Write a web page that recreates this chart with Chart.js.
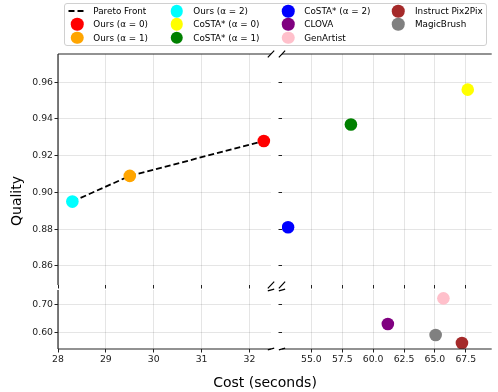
<!DOCTYPE html>
<html>
<head>
<meta charset="utf-8">
<script src="https://cdn.jsdelivr.net/npm/chart.js@4.4.1/dist/chart.umd.min.js"></script>
<style>
  body { margin: 0; background: #fff; overflow: hidden; }
  #wrap { position: relative; width: 498px; height: 392px; font-family: "DejaVu Sans", sans-serif; color: #000; }
  #wrap canvas { position: absolute; left: 0; top: 0; }
  #legend { position: absolute; left: 64px; top: 3px; width: 423px; height: 43px; box-sizing: border-box;
            border: 1px solid #d0d0d0; border-radius: 3px; background: rgba(255,255,255,0.8); }
  .lg-item { position: absolute; font-size: 8.8px; line-height: 1; white-space: nowrap; transform: translateY(-50%); }
  .lg-dot { position: absolute; width: 12.5px; height: 12.5px; border-radius: 50%; transform: translate(-50%, -50%); }
  .title { position: absolute; font-size: 14px; white-space: nowrap; }
</style>
</head>
<body>
<div id="wrap">
  <canvas id="tl" width="498" height="392"></canvas>
  <canvas id="tr" width="498" height="392"></canvas>
  <canvas id="bl" width="498" height="392"></canvas>
  <canvas id="br" width="498" height="392"></canvas>
  <div id="legend"></div>
  <div class="title" style="left:16px;top:201px;transform:translate(-50%,-50%) rotate(-90deg);">Quality</div>
  <div class="title" style="left:265px;top:382px;transform:translate(-50%,-50%);">Cost (seconds)</div>
</div>
<script>
// values
const methods = ['Ours (α = 0)', 'Ours (α = 1)', 'Ours (α = 2)',
                 'CoSTA* (α = 0)', 'CoSTA* (α = 1)', 'CoSTA* (α = 2)',
                 'CLOVA', 'GenArtist', 'Instruct Pix2Pix', 'MagicBrush'];
const cost = [32.3, 29.5, 28.3, 67.66, 58.2, 53.11, 61.19, 65.69, 67.19, 65.06];
const quality = [0.928, 0.909, 0.895, 0.956, 0.937, 0.881, 0.630, 0.723, 0.561, 0.590];

const paretoLabel = 'Pareto Front';
const paretoCost = [28.3, 29.5, 32.3];
const paretoQuality = [0.895, 0.909, 0.928];

// styles
const colors = ['red', 'orange', 'cyan', 'yellow', 'green', 'blue', 'purple', 'pink', 'brown', 'gray'];
const gridColor = 'rgba(0,0,0,0.1)';
const tickFont = { family: 'DejaVu Sans', size: 9.3 };

// spines and the little "//" marks at the breaks
const frame = {
  id: 'frame',
  afterDraw(chart, args, opts) {
    const { ctx, chartArea: a } = chart;
    ctx.save();
    ctx.strokeStyle = '#262626';
    ctx.lineWidth = 1.2;
    ctx.beginPath();
    if (opts.top) { ctx.moveTo(a.left, a.top); ctx.lineTo(a.right, a.top); }
    if (opts.bottom) { ctx.moveTo(a.left, a.bottom); ctx.lineTo(a.right, a.bottom); }
    if (opts.left) { ctx.moveTo(a.left, a.top); ctx.lineTo(a.left, a.bottom); }
    ctx.stroke();

    const dx = 0.015 * (a.right - a.left);
    const dy = 0.015 * (a.bottom - a.top);
    ctx.strokeStyle = '#000';
    ctx.beginPath();
    (opts.breaks || []).forEach(c => {
      const x = c[0] === 'l' ? a.left : a.right;
      const y = c[1] === 't' ? a.top : a.bottom;
      ctx.moveTo(x - dx, y + dy);
      ctx.lineTo(x + dx, y - dy);
    });
    ctx.stroke();
    ctx.restore();
  }
};

function makeDatasets(withPareto) {
  let sets = methods.map((name, i) => ({
    label: name,
    data: [{ x: cost[i], y: quality[i] }],
    backgroundColor: colors[i],
    borderWidth: 0,
    pointRadius: 6.3,
    clip: 0,
    order: 1
  }));
  if (withPareto) {
    sets.unshift({
      label: paretoLabel,
      data: paretoCost.map((c, i) => ({ x: c, y: paretoQuality[i] })),
      showLine: true,
      borderColor: '#000',
      borderWidth: 1.8,
      borderDash: [6, 3],
      pointRadius: 0,
      clip: 0,
      order: 2
    });
  }
  return sets;
}

function makePanel(id, p) {
  return new Chart(document.getElementById(id).getContext('2d'), {
    type: 'scatter',
    data: { datasets: makeDatasets(p.pareto) },
    options: {
      responsive: false,
      animation: false,
      devicePixelRatio: 1,
      events: [],
      layout: { padding: p.padding },
      plugins: {
        legend: { display: false },
        tooltip: { enabled: false },
        frame: p.frame
      },
      scales: {
        x: {
          type: 'linear',
          position: 'bottom',
          min: p.x[0],
          max: p.x[1],
          afterFit: s => { s.height = p.xh; },
          border: { display: false },
          grid: { color: gridColor, lineWidth: 1, drawTicks: true, tickLength: 3.5, tickColor: '#222', tickWidth: 1 },
          ticks: {
            display: p.xLabels,
            stepSize: p.xStep,
            includeBounds: false,
            autoSkip: false,
            maxRotation: 0,
            padding: 1.5,
            color: '#222',
            font: tickFont,
            callback: v => v.toFixed(p.xDigits)
          }
        },
        y: {
          type: 'linear',
          position: 'left',
          min: p.y[0],
          max: p.y[1],
          afterFit: s => { s.width = p.yw; },
          border: { display: false },
          grid: { color: gridColor, lineWidth: 1, drawTicks: true, tickLength: 3.5, tickColor: '#222', tickWidth: 1 },
          ticks: {
            display: p.yLabels,
            stepSize: p.yStep,
            includeBounds: false,
            autoSkip: false,
            padding: 1.5,
            color: '#222',
            font: tickFont,
            callback: v => v.toFixed(2)
          }
        }
      }
    },
    plugins: [frame]
  });
}

const leftX = [28, 32.45];
const rightX = [52.62, 69.6];
const topY = [0.84954, 0.97542];
const bottomY = [0.5395, 0.7533];

makePanel('tl', {
  pareto: true, x: leftX, y: topY, xStep: 1, yStep: 0.02, xDigits: 0,
  xLabels: false, yLabels: true, xh: 12, yw: 40,
  padding: { left: 18, right: 227, top: 54, bottom: 95 },
  frame: { top: true, left: true, breaks: ['rt', 'rb'] }
});
makePanel('tr', {
  pareto: false, x: rightX, y: topY, xStep: 2.5, yStep: 0.02, xDigits: 1,
  xLabels: false, yLabels: false, xh: 12, yw: 10,
  padding: { left: 272, right: 0, top: 54, bottom: 95 },
  frame: { top: true, breaks: ['lt', 'lb'] }
});
makePanel('bl', {
  pareto: false, x: leftX, y: bottomY, xStep: 1, yStep: 0.1, xDigits: 0,
  xLabels: true, yLabels: true, xh: 20, yw: 40,
  padding: { left: 18, right: 227, top: 290, bottom: 23 },
  frame: { bottom: true, left: true, breaks: ['rt', 'rb'] }
});
makePanel('br', {
  pareto: false, x: rightX, y: bottomY, xStep: 2.5, yStep: 0.1, xDigits: 1,
  xLabels: true, yLabels: false, xh: 20, yw: 10,
  padding: { left: 272, right: 0, top: 290, bottom: 23 },
  frame: { bottom: true, breaks: ['lt', 'lb'] }
});

// legend, filled column by column (3 rows, 4 columns)
const legend = document.getElementById('legend');
const markX = [77.3, 176.7, 288.3, 398.3];
const textX = [93.3, 193.3, 304.3, 415];
const rowY = [11, 24.3, 37.7];
const entries = [{ label: paretoLabel, line: true }].concat(methods.map((m, i) => ({ label: m, color: colors[i] })));
entries.forEach((e, k) => {
  const col = Math.floor(k / 3), row = k % 3;
  const ox = 64 + 1, oy = 3 + 1;
  if (e.line) {
    const svg = document.createElementNS('http://www.w3.org/2000/svg', 'svg');
    svg.setAttribute('width', '20');
    svg.setAttribute('height', '4');
    svg.style.position = 'absolute';
    svg.style.left = (markX[col] - 9.5 - ox) + 'px';
    svg.style.top = (rowY[row] - 2 - oy) + 'px';
    svg.innerHTML = '<line x1="0.5" y1="2" x2="17.5" y2="2" stroke="#000" stroke-width="1.8" stroke-dasharray="6,3"/>';
    legend.appendChild(svg);
  } else {
    const dot = document.createElement('div');
    dot.className = 'lg-dot';
    dot.style.left = (markX[col] - ox) + 'px';
    dot.style.top = (rowY[row] - oy) + 'px';
    dot.style.background = e.color;
    legend.appendChild(dot);
  }
  const t = document.createElement('div');
  t.className = 'lg-item';
  t.style.left = (textX[col] - ox) + 'px';
  t.style.top = (rowY[row] - oy) + 'px';
  t.textContent = e.label;
  legend.appendChild(t);
});
</script>
</body>
</html>
